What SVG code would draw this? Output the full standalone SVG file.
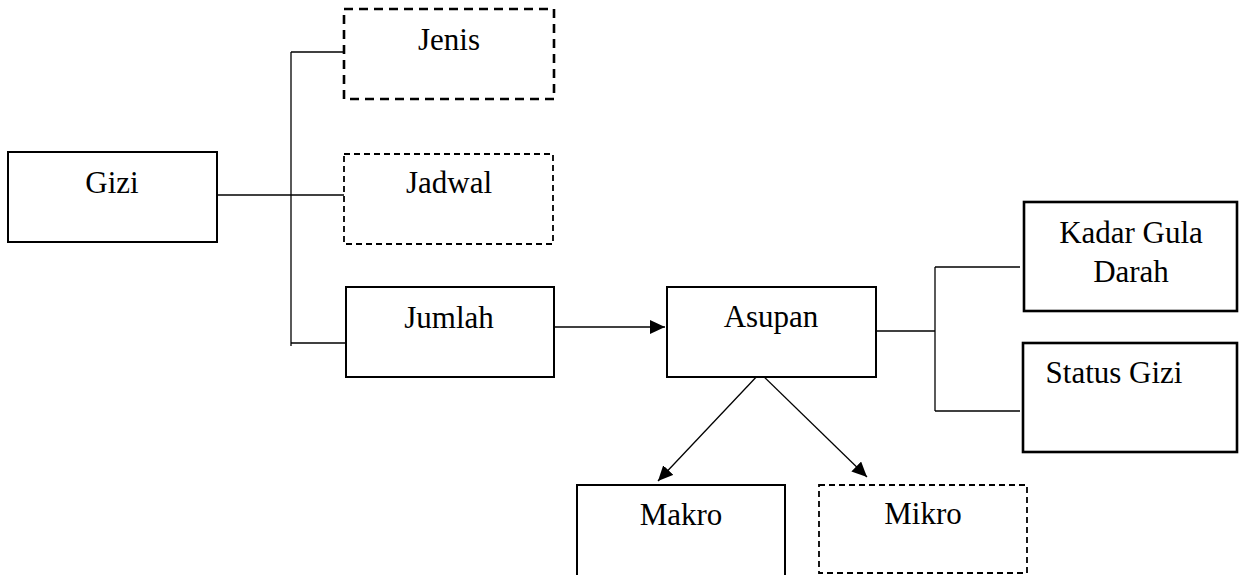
<svg xmlns="http://www.w3.org/2000/svg" width="1239" height="575" viewBox="0 0 1239 575">
<style>
.box{fill:#fff;stroke:#000;stroke-width:2}
.thick{stroke-width:2.6}
.dash1{fill:#fff;stroke:#000;stroke-width:2.6;stroke-dasharray:9 6}
.dash2{fill:#fff;stroke:#000;stroke-width:1.8;stroke-dasharray:6 4}
.conn{fill:none;stroke:#000;stroke-width:1.3}
text{font-family:"Liberation Serif","DejaVu Serif",serif;font-size:31px;fill:#000;text-anchor:middle}
</style>
<defs>
<marker id="arr" markerUnits="userSpaceOnUse" markerWidth="16" markerHeight="14" refX="15" refY="7" orient="auto">
<path d="M0,0 L15,7 L0,14 Z" fill="#000"/>
</marker>
</defs>
<rect width="1239" height="575" fill="#fff"/>
<g id="connectors">
<path class="conn" d="M217,195 H344"/>
<path class="conn" d="M291,52 V346"/>
<path class="conn" d="M291,52 H344"/>
<path class="conn" d="M291,343 H346"/>
<path class="conn" d="M554,327 H665" marker-end="url(#arr)"/>
<path class="conn" d="M876,331 H935"/>
<path class="conn" d="M935,267 V411"/>
<path class="conn" d="M935,267 H1020"/>
<path class="conn" d="M935,411 H1020"/>
<path class="conn" d="M760,373 L658,481" marker-end="url(#arr)"/>
<path class="conn" d="M760,373 L867,477" marker-end="url(#arr)"/>
</g>
<g id="gizi"><rect class="box" x="8" y="152" width="209" height="90"/><text x="112" y="193">Gizi</text></g>
<g id="jenis"><rect class="dash1" x="344" y="9" width="210" height="90"/><text x="449" y="50">Jenis</text></g>
<g id="jadwal"><rect class="dash2" x="344" y="154" width="209" height="90"/><text x="449" y="193">Jadwal</text></g>
<g id="jumlah"><rect class="box" x="346" y="287" width="208" height="90"/><text x="449" y="328">Jumlah</text></g>
<g id="asupan"><rect class="box" x="667" y="287" width="209" height="90"/><text x="771" y="327">Asupan</text></g>
<g id="kadar"><rect class="box thick" x="1024" y="202" width="213" height="109"/><text x="1131" y="243">Kadar Gula</text><text x="1131" y="282">Darah</text></g>
<g id="status"><rect class="box thick" x="1023" y="343" width="214" height="109"/><text x="1114" y="383">Status Gizi</text></g>
<g id="makro"><rect class="box" x="577" y="485" width="208" height="100"/><text x="681" y="525">Makro</text></g>
<g id="mikro"><rect class="dash2" x="819" y="485" width="208" height="88"/><text x="923" y="524">Mikro</text></g>
</svg>
